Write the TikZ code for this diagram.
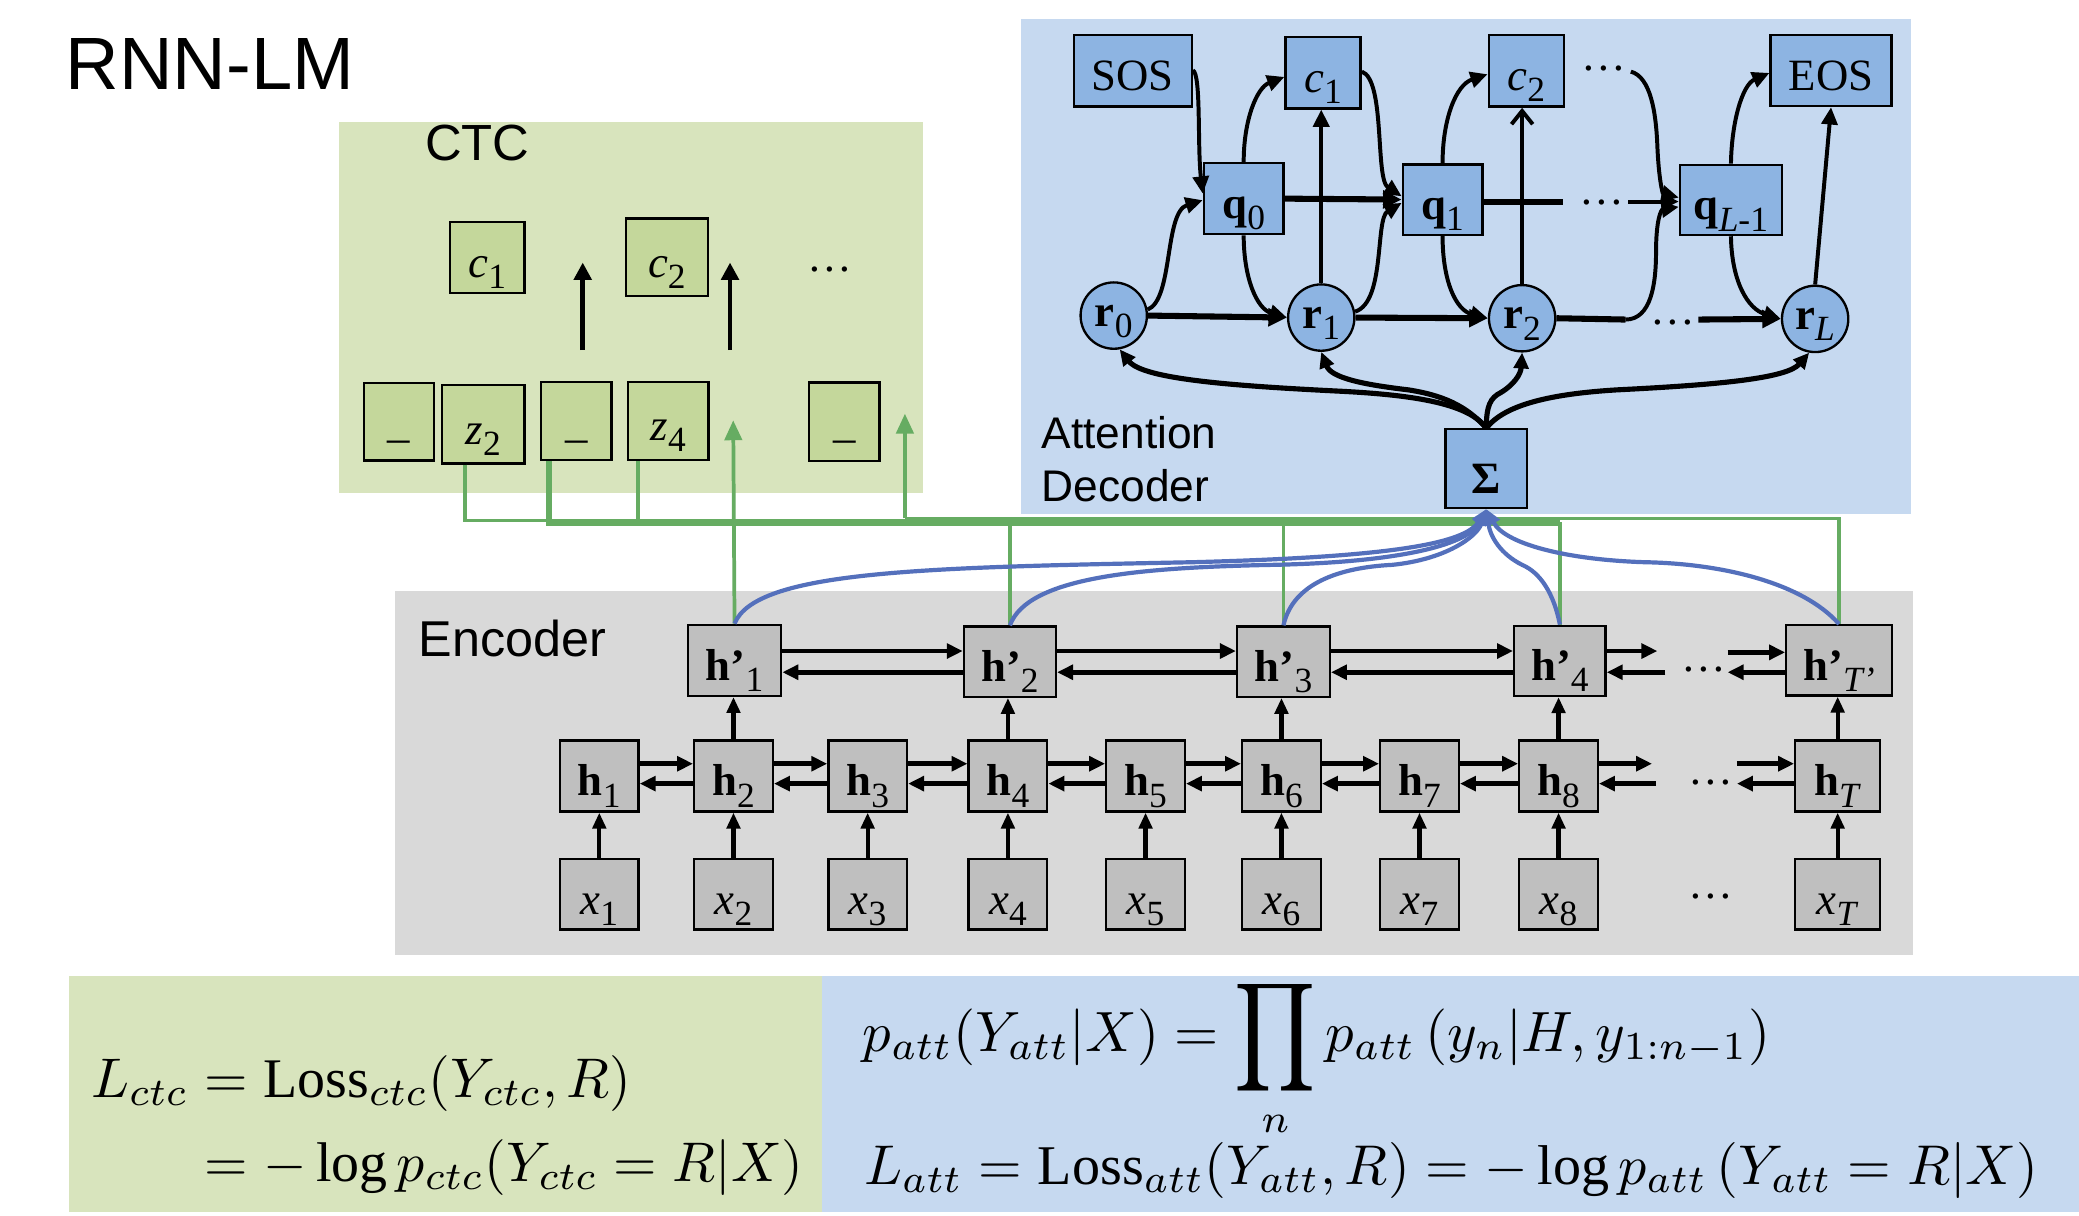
\documentclass[tikz,border=0pt]{standalone}
\usepackage{fontspec}
\usepackage{amsmath}
\usepackage{graphicx}
\setmainfont{Liberation Serif}
\newfontfamily\lsans{Liberation Sans}
\usetikzlibrary{arrows.meta}
\definecolor{ctcbg}{RGB}{216,228,189}
\definecolor{ctcbox}{RGB}{196,215,155}
\definecolor{attbg}{RGB}{198,217,240}
\definecolor{attbox}{RGB}{141,180,226}
\definecolor{encbg}{RGB}{217,217,217}
\definecolor{encbox}{RGB}{191,191,191}
\definecolor{gline}{RGB}{102,172,98}
\definecolor{bline}{RGB}{84,112,188}
\newcommand\boxfont{\fontsize{9.6pt}{10pt}\selectfont}
\newcommand\lowsub[1]{\raisebox{-2.4pt}{\fontsize{7.6pt}{8pt}\selectfont #1}}
\newcommand\bigprod{\mathop{\vcenter{\hbox{\scalebox{1.12}[1.34]{$\displaystyle\prod$}}}}\limits}
\begin{document}
\begin{tikzpicture}[x=0.01cm,y=-0.01cm,
  sz/.style 2 args={minimum width=#1*0.01cm, minimum height=#2*0.01cm},
  box/.style={draw=black, line width=0.5pt, inner sep=0pt, font=\boxfont, text height=0.3cm, text depth=0cm},
  cbox/.style={box, fill=ctcbox},
  abox/.style={box, fill=attbox},
  ebox/.style={box, fill=encbox},
  rnode/.style={box, fill=attbox, circle, minimum size=0.5cm, text height=0.16cm},
  dots/.style={inner sep=0pt, font=\boxfont},
  lbl/.style={anchor=base west, inner sep=0pt},
  darr/.style={line width=0.85pt, -{Triangle[length=0.13cm,width=0.12cm]}},
  tarr/.style={line width=1.3pt, -{Triangle[length=0.14cm,width=0.13cm]}},
  oarr/.style={line width=0.85pt, -{Straight Barb[length=0.1cm,width=0.16cm]}},
  earr/.style={line width=1pt, -{Triangle[length=0.12cm,width=0.11cm]}},
  varr/.style={line width=0.9pt, -{Triangle[length=0.12cm,width=0.1cm]}},
  carr/.style={line width=1pt, -{Triangle[length=0.13cm,width=0.13cm]}},
  fan/.style={line width=1.1pt, -{Triangle[length=0.12cm,width=0.11cm]}},
  gthin/.style={draw=gline, line width=0.8pt},
  gthick/.style={draw=gline, line width=1.4pt},
  garr/.style={draw=gline, line width=0.8pt, -{Triangle[length=0.15cm,width=0.13cm]}, gline},
  bcur/.style={draw=bline, line width=0.9pt, -{Triangle[length=0.12cm,width=0.1cm]}, bline}
]
\useasboundingbox (0,0) rectangle (1568,917);
\fill[white] (0,0) rectangle (1568,917);
% panels
\fill[ctcbg] (256,92) rectangle (696,372);
\fill[attbg] (770,14) rectangle (1441,388);
\fill[encbg] (298,446) rectangle (1443,720);
\fill[ctcbg] (52,736) rectangle (620,914);
\fill[attbg] (620,736) rectangle (1568,914);

% panel labels
\node[lbl, font=\lsans\fontsize{15.9pt}{17pt}\selectfont] (title) at (49,67.4) {RNN-LM};
\node[lbl, font=\lsans\fontsize{10.9pt}{12pt}\selectfont] (ctclbl) at (320,120.7) {CTC};
\node[lbl, font=\lsans\fontsize{10.8pt}{12pt}\selectfont] (enclbl) at (315,495) {Encoder};
\node[lbl, font=\lsans\fontsize{9.5pt}{11pt}\selectfont] (attlbl1) at (785,338) {Attention};
\node[lbl, font=\lsans\fontsize{9.5pt}{11pt}\selectfont] (attlbl2) at (785,378.3) {Decoder};

% CTC nodes
\node[cbox,sz={56}{53.5}] (cc1) at (367.5,194) {\textit{c\/}\lowsub{1}};
\node[cbox,sz={62}{58.6}] (cc2) at (503,194) {\textit{c\/}\lowsub{2}};
\node[dots] (cdots) at (626,203) {…};
\node[cbox,sz={52.6}{58.8}] (b1) at (301,318) {};
\node[cbox,sz={62}{59}] (z2) at (364.5,320) {\textit{z\/}\lowsub{2}};
\node[cbox,sz={53}{59}] (b3) at (434.7,317.4) {};
\node[cbox,sz={60.6}{59}] (z4) at (504,317.4) {\textit{z\/}\lowsub{4}};
\node[cbox,sz={53.4}{59}] (b5) at (636.7,318) {};
\node[anchor=base, inner sep=0pt, font=\boxfont] (u1) at (301,330) {\_};
\node[anchor=base, inner sep=0pt, font=\boxfont] (u3) at (434.7,330) {\_};
\node[anchor=base, inner sep=0pt, font=\boxfont] (u5) at (636.7,330) {\_};
\coordinate (ca1s) at (439.5,264);
\coordinate (ca1e) at (439.5,198);
\coordinate (ca2s) at (550.6,264);
\coordinate (ca2e) at (550.6,198);
\draw[carr] (ca1s) -- (ca1e);
\draw[carr] (ca2s) -- (ca2e);

% decoder nodes
\node[abox,sz={89}{54}] (sos) at (854.3,53.4) {SOS};
\node[abox,sz={56.6}{53.6}] (dc1) at (997.9,54.9) {\textit{c\/}\lowsub{1}};
\node[abox,sz={56.7}{54}] (dc2) at (1151.2,53.4) {\textit{c\/}\lowsub{2}};
\node[dots] (ddotsA) at (1210,52) {…};
\node[abox,sz={91.2}{53.6}] (eos) at (1381,53.2) {EOS};
\node[abox,sz={60}{53.7}] (q0) at (938,149.8) {\textbf{q}\lowsub{0}};
\node[abox,sz={60}{53}] (q1) at (1088,150.5) {\textbf{q}\lowsub{1}};
\node[dots] (ddotsB) at (1208,152.5) {…};
\node[abox,sz={77}{53}] (qL) at (1305.5,150.8) {\textbf{q}\lowsub{\textit{L}-1}};
\node[rnode] (r0) at (840,238) {\textbf{r}\lowsub{0}};
\node[rnode] (r1) at (996.5,239.5) {\textbf{r}\lowsub{1}};
\node[rnode] (r2) at (1148,240) {\textbf{r}\lowsub{2}};
\node[dots] (ddotsC) at (1262,243) {…};
\node[rnode] (rL) at (1369,240.5) {\textbf{r}\lowsub{\textit{L}}};
\node[abox,sz={61.6}{59.3}, text height=0.37cm] (sigma) at (1121,353.4) {\textbf{Σ}};

% decoder connectors
\draw[darr] (sos.east |- 0,53) .. controls (906,56) and (903,110) .. (q0.west |- 0,146);
\draw[darr] (r0.10) .. controls (885,226) and (878,160) .. (q0.west |- 0,151);
\draw[darr] (q0.north) .. controls (938,90) and (948,66) .. (dc1.west |- 0,58);
\draw[darr] (q0.south) .. controls (938,210) and (948,233) .. (r1.west);
\draw[tarr] (q0.east) -- (q1.west);
\draw[tarr] (r0.east) -- (r1.west);
\draw[darr] (r1.north) -- (r1.north |- dc1.south);
\draw[darr] (dc1.east |- 0,54) .. controls (1045,60) and (1037,135) .. (q1.west |- 0,148);
\draw[darr] (r1.10) .. controls (1045,228) and (1037,165) .. (q1.west |- 0,153);
\draw[darr] (q1.north) .. controls (1088,90) and (1098,64) .. (dc2.west |- 0,56);
\draw[darr] (q1.south) .. controls (1088,212) and (1098,234) .. (r2.west);
\draw[oarr] (r2.north) -- (r2.north |- dc2.south);
\coordinate (qd1) at (1179,152);
\coordinate (qd2) at (1228,152);
\draw[line width=1.3pt] (q1.east |- 0,152) -- (qd1);
\draw[darr] (qd2) -- (qL.west |- 0,152);
\draw[tarr] (r1.east) -- (r2.west);
\coordinate (rd1) at (1226,241);
\draw[line width=1.3pt] (r2.east) -- (rd1);
\draw[darr] (rd1) .. controls (1245,241) and (1249,215) .. (1249,190) .. controls (1249,165) and (1253,158) .. (qL.west |- 0,156);
\coordinate (cd1) at (1230,54);
\draw[darr] (cd1) .. controls (1245,58) and (1249,85) .. (1250,110) .. controls (1251,135) and (1254,146) .. (qL.west |- 0,149);
\coordinate (rd2) at (1281,241);
\draw[tarr] (rd2) -- (rL.west);
\draw[darr] (qL.north) .. controls (1306,92) and (1314,64) .. (eos.west |- 0,55);
\draw[darr] (qL.south) .. controls (1306,212) and (1318,233) .. (rL.west);
\draw[darr] (rL.north) -- (eos.south);
% fan from sigma
\draw[fan] (sigma.north) .. controls (1108,305) and (1070,298) .. (1010,295) .. controls (930,291) and (862,286) .. (r0.-80);
\draw[fan] (sigma.north) .. controls (1106,306) and (1088,298) .. (1062,294) .. controls (1028,290) and (1004,285) .. (r1.south);
\draw[fan] (sigma.north) .. controls (1121,306) and (1124,300) .. (1132,296) .. controls (1142,290) and (1147,282) .. (r2.south);
\draw[fan] (sigma.north) .. controls (1135,305) and (1170,297) .. (1220,294) .. controls (1300,290) and (1348,285) .. (rL.-100);

% encoder nodes
\node[ebox,sz={70.4}{53.6}] (hp1) at (554,498) {\textbf{h’}\lowsub{1}};
\node[ebox,sz={69.4}{53}] (hp2) at (761.7,499) {\textbf{h’}\lowsub{2}};
\node[ebox,sz={70}{53}] (hp3) at (968,499) {\textbf{h’}\lowsub{3}};
\node[ebox,sz={69}{53}] (hp4) at (1176.5,498.4) {\textbf{h’}\lowsub{4}};
\node[ebox,sz={79.5}{53}] (hpT) at (1387,498) {\textbf{h’}\lowsub{\textit{T’}}};
\foreach \n/\x in {1/452,2/553.2,3/654.4,4/760.2,5/864,6/966.5,7/1070.6,8/1175.5}{
  \node[ebox,sz={59.3}{53.4}] (h\n) at (\x,585.3) {\textbf{h}\lowsub{\n}};
  \node[ebox,sz={59.3}{53}] (x\n) at (\x,674.5) {\textit{x\/}\lowsub{\n}};
}
\node[ebox,sz={64}{53.4}] (hT) at (1386,585.3) {\textbf{h}\lowsub{\textit{T}}};
\node[ebox,sz={64}{53}] (xT) at (1386,674.5) {\textit{x\/}\lowsub{\textit{T}}};
\node[dots] (edots1) at (1285,505) {…};
\node[dots] (edots2) at (1290,590) {…};
\node[dots] (edots3) at (1290,676) {…};

% encoder connectors
\foreach \a/\b in {h1/h2,h2/h3,h3/h4,h4/h5,h5/h6,h6/h7,h7/h8}{
  \draw[earr] (\a.east |- 0,576) -- (\b.west |- 0,576);
  \draw[earr] (\b.west |- 0,591) -- (\a.east |- 0,591);
}
\foreach \a/\b in {hp1/hp2,hp2/hp3,hp3/hp4}{
  \draw[earr] (\a.east |- 0,491) -- (\b.west |- 0,491);
  \draw[earr] (\b.west |- 0,507) -- (\a.east |- 0,507);
}
\coordinate (e1) at (1246,576);
\coordinate (e2) at (1249,591);
\coordinate (e3) at (1310,576);
\coordinate (e4) at (1310,591);
\draw[earr] (h8.east |- 0,576) -- (e1);
\draw[earr] (e2) -- (h8.east |- 0,591);
\draw[earr] (e3) -- (hT.west |- 0,576);
\draw[earr] (hT.west |- 0,591) -- (e4);
\coordinate (e5) at (1250,491);
\coordinate (e6) at (1256,507);
\coordinate (e7) at (1303,492);
\coordinate (e8) at (1303,507);
\draw[earr] (hp4.east |- 0,491) -- (e5);
\draw[earr] (e6) -- (hp4.east |- 0,507);
\draw[earr] (e7) -- (hpT.west |- 0,492);
\draw[earr] (hpT.west |- 0,507) -- (e8);
\foreach \n in {1,...,8}{ \draw[varr] (x\n.north) -- (h\n.south); }
\draw[varr] (xT.north) -- (hT.south);
\draw[varr] (h2.north) -- (h2.north |- hp1.south);
\draw[varr] (h4.north) -- (h4.north |- hp2.south);
\draw[varr] (h6.north) -- (h6.north |- hp3.south);
\draw[varr] (h8.north) -- (h8.north |- hp4.south);
\draw[varr] (hT.north) -- (hT.north |- hpT.south);

% green network
\coordinate (g1) at (553,317);
\coordinate (g2) at (682.5,312);
\draw[gthin] (350.5,0 |- z2.south) -- (350.5,392.5) -- (414,392.5);
\draw[gthick] (414,0 |- b3.south) -- (414,394) -- (1176.5,394);
\draw[gthin] (481.4,0 |- z4.south) -- (481.4,394);
\draw[garr] (hp1.north) -- (g1);
\draw[gthin] (hp2.north) -- (hp2.north |- 0,394);
\draw[gthin] (hp3.north) -- (hp3.north |- 0,394);
\draw[gthin] (hp4.north) -- (hp4.north |- 0,394);
\draw[gthin] (hpT.north) -- (hpT.north |- 0,391) -- (682.5,391);
\draw[garr] (682.5,391) -- (g2);

% blue attention curves
\draw[bcur] (hp1.north) .. controls (570,430) and (700,428) .. (900,424) .. controls (1050,420) and (1105,410) .. (sigma.south);
\draw[bcur] (hp2.north) .. controls (775,435) and (860,428) .. (960,426) .. controls (1060,424) and (1108,410) .. (sigma.south);
\draw[bcur] (hp3.north) .. controls (975,440) and (1010,428) .. (1050,426) .. controls (1090,422) and (1114,405) .. (sigma.south);
\draw[bcur] (hp4.north) .. controls (1172,448) and (1162,432) .. (1148,426) .. controls (1132,418) and (1124,405) .. (sigma.south);
\draw[bcur] (hpT.north) .. controls (1360,440) and (1300,425) .. (1240,424) .. controls (1180,422) and (1135,410) .. (sigma.south);

% formulas
\node[anchor=west, inner sep=0pt] (f1) at (68,849) {\resizebox{5.37cm}{!}{$\begin{aligned} L_{ctc} &= \mathrm{Loss}_{ctc}(Y_{ctc}, R)\\ &= -\log p_{ctc}(Y_{ctc} = R|X)\end{aligned}$}};
\node[anchor=base west, inner sep=0pt] (f2) at (650,793) {\resizebox{6.84cm}{!}{$p_{att}(Y_{att}|X) = \bigprod_{n} p_{att}\,(y_n|H, y_{1:n-1})$}};
\node[anchor=base west, inner sep=0pt] (f3) at (651,893) {\resizebox{8.85cm}{!}{$L_{att} = \mathrm{Loss}_{att}(Y_{att}, R) = -\log p_{att}\,(Y_{att} = R|X)$}};
\end{tikzpicture}
\end{document}
